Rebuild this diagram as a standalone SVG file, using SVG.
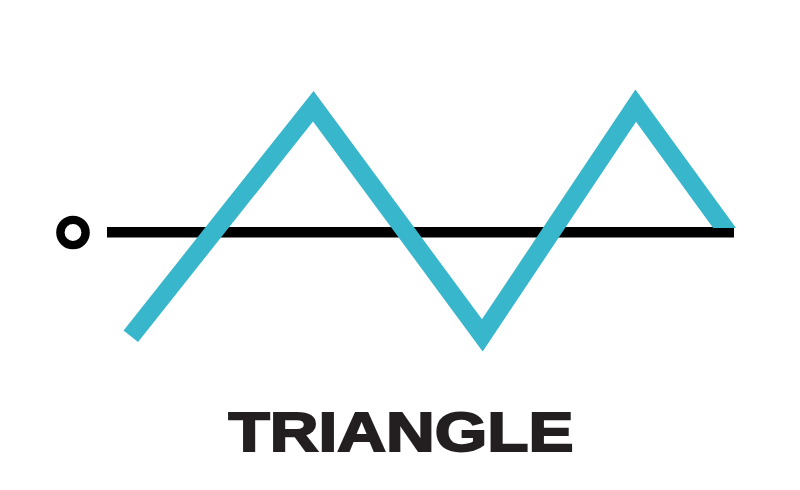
<svg xmlns="http://www.w3.org/2000/svg" width="800" height="490" viewBox="0 0 800 490">
  <defs>
    <style>
      .axis { stroke: #000000; stroke-width: 10.5; fill: none; }
      .wave { stroke: #38b6cb; stroke-width: 18.5; fill: none; stroke-linejoin: miter; stroke-miterlimit: 10; stroke-linecap: butt; }
      .label { font-family: "Liberation Sans", Arial, sans-serif; font-weight: bold; font-size: 56px; fill: #231f20; stroke: #231f20; stroke-width: 2; stroke-linejoin: miter; }
    </style>
    <clipPath id="endClip">
      <path d="M0 0 H800 V228 H680 V490 H0 Z"/>
    </clipPath>
  </defs>
  <rect width="800" height="490" fill="#ffffff"/>
  <g id="connectors">
    <line class="axis" x1="107" y1="232.2" x2="734" y2="232.2"/>
  </g>
  <g id="origin">
    <circle cx="73" cy="232.5" r="12.6" fill="none" stroke="#000000" stroke-width="8.4"/>
  </g>
  <g id="wave">
    <polyline class="wave" clip-path="url(#endClip)" points="130.8,336.2 313.3,106.3 482.3,335.3 635.7,105.6 742,252"/>
  </g>
  <g id="title">
    <text class="label" x="228.5" y="450.8" textLength="345" lengthAdjust="spacingAndGlyphs">TRIANGLE</text>
  </g>
</svg>
